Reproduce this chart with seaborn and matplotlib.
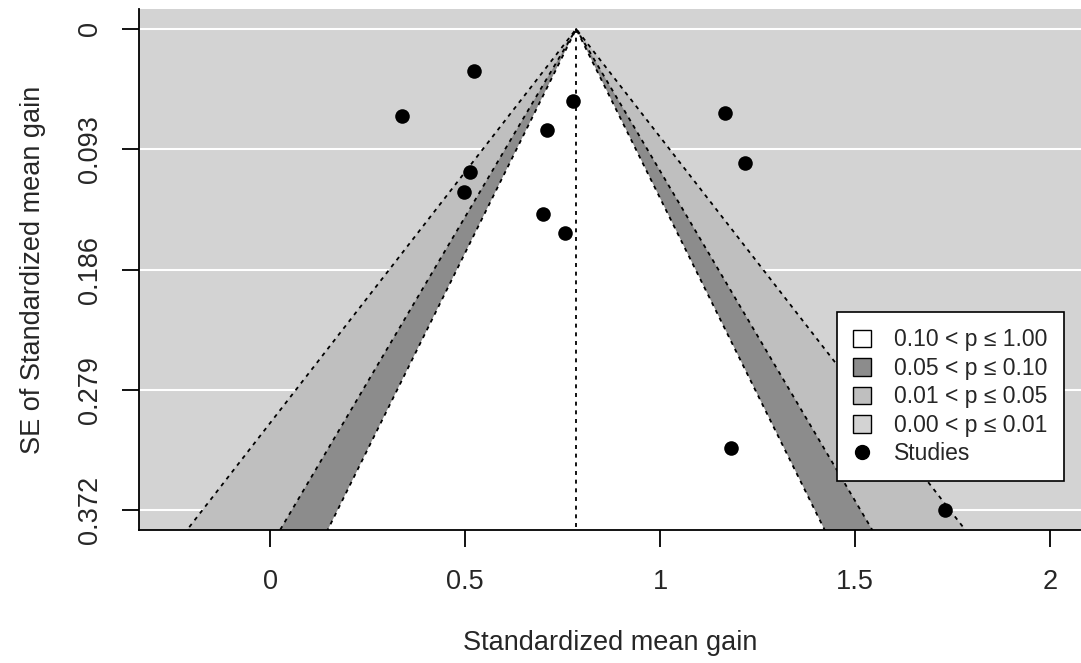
import numpy as np
import matplotlib
matplotlib.use("Agg")
import matplotlib.pyplot as plt
from matplotlib.patches import Patch
from matplotlib.lines import Line2D
import seaborn as sns
import pandas as pd
from statistics import NormalDist

# Study-level standardized mean gains and their standard errors
yi = [0.523, 0.338, 0.776, 0.709, 0.512, 0.497, 0.699, 0.756, 1.167, 1.218, 1.182, 1.731]
sei = [0.0324, 0.0672, 0.0554, 0.0783, 0.1107, 0.1259, 0.1434, 0.1581, 0.0646, 0.1037, 0.3244, 0.372]

# Pooled estimate (funnel centre)
theta = 0.785

# Contour levels and shades
levels = [0.99, 0.95, 0.90]
shades = ["#BFBFBF", "#8C8C8C", "#FFFFFF"]
back = "#D3D3D3"
legend_labels = ["0.10 < p \u2264 1.00", "0.05 < p \u2264 0.10",
                 "0.01 < p \u2264 0.05", "0.00 < p \u2264 0.01", "Studies"]
legend_fills = ["#FFFFFF", "#8C8C8C", "#BFBFBF", "#D3D3D3"]

xticks = [0, 0.5, 1, 1.5, 2]
xtick_labels = ["0", "0.5", "1", "1.5", "2"]
ytick_labels = ["0", "0.093", "0.186", "0.279", "0.372"]

df = pd.DataFrame({"yi": yi, "sei": sei})

sns.set_style("white")
plt.rcParams["font.family"] = ["Liberation Sans", "DejaVu Sans"]

fig = plt.figure(figsize=(10.81, 6.63), dpi=100)
ax = fig.add_axes([0.1286, 0.2006, 0.8714, 0.7858])
ax.set_facecolor(back)

ymax = max(sei)
yticks = np.linspace(0, ymax, 5)
pad = ymax * 0.0415
ax.set_ylim(ymax + pad, -pad)
ax.set_xlim(-0.336, 2.0795)

# horizontal reference lines
for yt in yticks:
    ax.axhline(yt, color="white", lw=1.5, zorder=1)

# contour regions
se_far = 1.0
for lev, col in zip(levels, shades):
    z = NormalDist().inv_cdf(1 - (1 - lev) / 2)
    xs = [theta - z * se_far, theta, theta + z * se_far]
    ys = [se_far, 0, se_far]
    ax.fill(xs, ys, color=col, lw=0, zorder=2)

dot = (0, (2.2, 2.6))
for lev in levels:
    z = NormalDist().inv_cdf(1 - (1 - lev) / 2)
    ax.plot([theta - z * se_far, theta, theta + z * se_far], [se_far, 0, se_far],
            color="black", lw=1.3, linestyle=dot, zorder=3)
ax.plot([theta, theta], [0, se_far], color="black", lw=1.3, linestyle=dot, zorder=3)

sns.scatterplot(data=df, x="yi", y="sei", ax=ax, s=110, color="black",
                edgecolor="black", linewidth=0, zorder=4, legend=False)

ax.set_xticks(xticks)
ax.set_xticklabels(xtick_labels, fontsize=19.5)
ax.set_yticks(yticks)
ax.set_yticklabels(ytick_labels, fontsize=19.5, rotation=90, va="center")
ax.tick_params(axis="both", length=12, width=1.3, color="black", direction="out",
               left=True, bottom=True)
ax.tick_params(axis="x", pad=16)
ax.tick_params(axis="y", pad=14)

for side in ["top", "right"]:
    ax.spines[side].set_visible(False)
for side in ["left", "bottom"]:
    ax.spines[side].set_color("black")
    ax.spines[side].set_linewidth(1.3)

ax.set_xlabel("Standardized mean gain", fontsize=19.5, labelpad=25)
ax.set_ylabel("SE of Standardized mean gain", fontsize=19.5, labelpad=22)

handles = [Patch(facecolor=c, edgecolor="black", lw=1.0) for c in legend_fills]
handles.append(Line2D([], [], marker="o", color="black", linestyle="none", markersize=10))
leg = ax.legend(handles, legend_labels, loc="upper left", bbox_to_anchor=(0.741, 0.418),
                borderaxespad=0, fontsize=16.5, frameon=True, fancybox=False,
                framealpha=1, facecolor="white", edgecolor="black",
                handlelength=0.8, handleheight=0.8, handletextpad=1.0,
                labelspacing=0.24, borderpad=0.7)
leg.get_frame().set_linewidth(1.2)
leg.set_zorder(5)

fig.savefig("out.png", dpi=100)
